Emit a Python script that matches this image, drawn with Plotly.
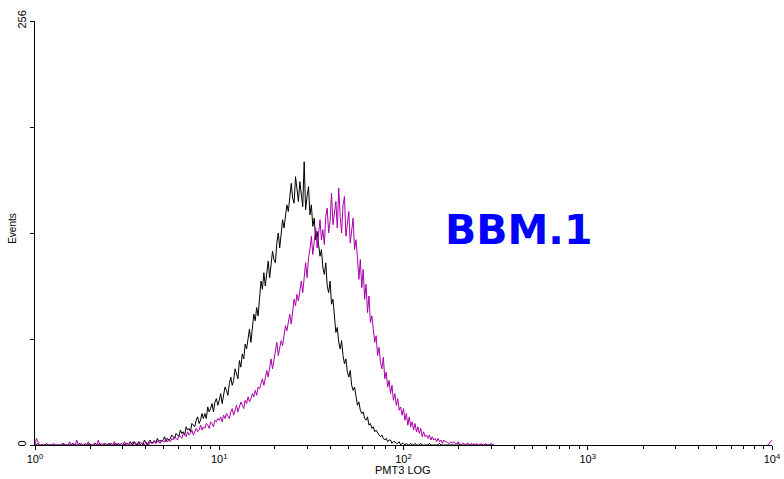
import plotly.graph_objects as go

# Histogram channel counts, 128 channels per decade starting at 10^0
CHANNELS_PER_DECADE = 128

black_counts = [
    0,0,1,0,0,0,0,0,1,0,0,0,0,0,0,0,
    0,0,0,0,1,0,0,0,0,0,1,0,0,0,0,1,
    0,0,0,1,0,0,1,0,0,0,1,0,0,1,0,0,
    1,0,0,1,0,1,0,0,1,0,1,0,1,0,0,1,
    1,0,2,1,0,2,1,0,2,0,1,0,3,1,0,2,
    3,1,2,2,1,4,2,3,2,3,5,2,4,3,4,6,
    5,4,7,6,5,9,7,8,6,11,9,10,8,13,12,11,
    15,17,13,15,19,16,19,16,23,20,22,25,20,26,28,24,
    27,31,25,29,35,33,30,37,41,36,39,46,43,40,51,47,
    55,52,61,58,64,70,62,69,79,75,83,78,92,99,94,104,
    96,105,111,101,108,117,112,110,122,128,119,126,136,131,138,145,
    141,152,158,149,146,162,155,147,159,151,144,171,142,150,156,139,
    145,132,137,124,129,121,114,118,107,103,110,96,92,99,85,88,
    76,68,71,62,58,63,54,49,52,44,41,45,36,33,35,28,
    24,26,21,19,20,16,15,17,12,13,10,11,8,9,7,6,
    5,6,4,3,4,2,3,3,1,2,2,1,1,2,0,1,
    1,0,1,0,0,1,0,0,1,0,0,0,1,0,0,0,
    0,0,1,0,0,0,0,0,0,1,0,0,0,0,0,0,
    0,0,0,0,0,0,1,0,0,0,0,0,0,0,0,0,
    0,0,0,0,0,0,0,0,0,0,0,0,0,0,0,0,
]

magenta_counts = [
    0,4,2,0,0,0,0,0,0,0,0,0,0,1,0,0,
    0,0,0,1,0,0,0,0,2,0,0,1,0,3,0,0,
    1,0,0,0,0,2,0,0,0,1,0,0,3,0,1,0,
    0,1,0,0,1,0,0,2,0,1,0,0,1,0,2,0,
    1,0,1,0,2,1,0,1,0,2,1,1,0,2,1,0,
    2,1,1,3,1,2,2,1,3,2,2,4,2,3,2,4,
    3,5,4,3,6,5,4,7,6,5,8,6,7,9,6,8,
    10,8,9,12,9,11,10,13,12,10,14,13,11,15,14,16,
    15,17,14,18,16,19,17,16,20,22,18,21,24,20,23,26,
    24,22,27,25,29,26,28,31,29,33,30,35,34,37,40,36,
    42,45,41,48,52,46,51,55,62,54,58,63,60,67,72,69,
    74,79,73,82,88,84,91,87,95,99,92,104,110,101,113,118,
    126,115,122,131,119,127,136,124,130,121,138,143,128,135,152,133,
    140,147,131,155,138,128,145,150,126,134,141,122,130,137,118,124,
    113,100,112,95,106,88,97,80,90,74,78,71,62,66,54,59,
    50,46,53,40,44,35,39,31,36,27,31,24,28,21,23,18,
    22,15,19,12,17,11,14,9,13,8,11,7,10,5,8,5,
    6,4,6,3,5,3,4,2,4,2,3,1,3,2,2,1,
    1,2,1,2,1,1,2,1,0,1,1,0,1,1,0,1,
    0,1,0,1,0,0,1,0,0,1,0,0,0,1,0,0,
]

# counts piled up in the last channel (top of scale)
pileup_x = [9500, 10000]
pileup_counts = [0, 3]

x_tick_vals = [1, 10, 100, 1000, 10000]
x_tick_text = ["10<sup>0</sup>", "10<sup>1</sup>", "10<sup>2</sup>", "10<sup>3</sup>", "10<sup>4</sup>"]
x_minor_vals = [m * d for d in (1, 10, 100, 1000) for m in range(2, 10)]
y_tick_vals = [0, 64, 128, 192, 256]
y_tick_text = ["0", "", "", "", "256"]

label_text = "BBM.1"
x_title = "PMT3 LOG"
y_title = "Events"


def channel_x(n):
    return [10 ** (i / CHANNELS_PER_DECADE) for i in range(n)]


fig = go.Figure()
fig.add_trace(go.Scatter(x=channel_x(len(black_counts)), y=black_counts, mode="lines",
                         line=dict(color="#000000", width=1), showlegend=False))
fig.add_trace(go.Scatter(x=channel_x(len(magenta_counts)), y=magenta_counts, mode="lines",
                         line=dict(color="#AA00AA", width=1), showlegend=False))
fig.add_trace(go.Scatter(x=pileup_x, y=pileup_counts, mode="lines",
                         line=dict(color="#AA00AA", width=1), showlegend=False))

axis_font = dict(family="Liberation Sans, Arial, sans-serif", size=10, color="#000000")
tick_font = dict(family="Liberation Sans, Arial, sans-serif", size=11, color="#000000")

fig.update_layout(
    width=784, height=479,
    margin=dict(l=35, r=12, t=21, b=34),
    paper_bgcolor="white", plot_bgcolor="white",
    font=axis_font,
    xaxis=dict(type="log", range=[0, 4], showline=True, linecolor="black", linewidth=1,
               showgrid=False, zeroline=False, ticks="outside", ticklen=4, tickcolor="black",
               tickmode="array", tickvals=x_tick_vals, ticktext=x_tick_text, tickfont=tick_font,
               automargin=False,
               minor=dict(tickmode="array", tickvals=x_minor_vals, ticks="outside", ticklen=3,
                          tickcolor="black", showgrid=False)),
    yaxis=dict(range=[0, 256], showline=True, linecolor="black", linewidth=1,
               showgrid=False, zeroline=False, ticks="outside", ticklen=4, tickcolor="black",
               tickmode="array", tickvals=y_tick_vals, ticktext=y_tick_text, tickangle=-90,
               tickfont=tick_font, automargin=False),
)

fig.add_annotation(text=y_title, xref="paper", yref="paper", x=-0.030, y=0.512,
                   textangle=-90, showarrow=False, font=axis_font, xanchor="center", yanchor="middle")
fig.add_annotation(text=x_title, xref="paper", yref="paper", x=0.499, y=-0.059,
                   showarrow=False, font=tick_font, xanchor="center", yanchor="middle")
fig.add_annotation(text="<b>" + label_text + "</b>", xref="paper", yref="paper", x=0.656, y=0.507,
                   showarrow=False, xanchor="center", yanchor="middle",
                   font=dict(family="DejaVu Sans", size=41, color="#0000FF"))

fig.write_html("out.html", config={"displayModeBar": False},
               post_script="document.body.style.margin='0';document.body.style.overflow='hidden';")
